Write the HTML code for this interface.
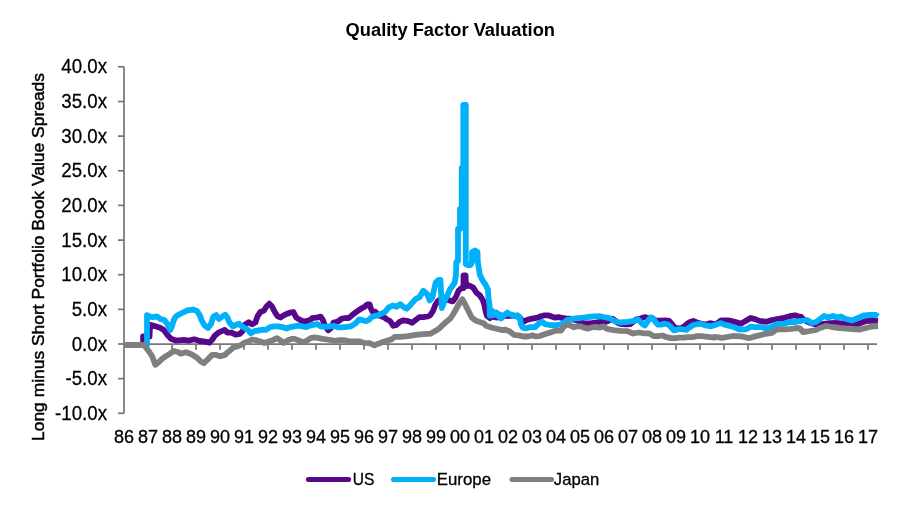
<!DOCTYPE html><html><head><meta charset="utf-8"><style>html,body{margin:0;padding:0;background:#fff;}body{width:900px;height:509px;overflow:hidden;}svg{display:block;will-change:transform;}text{font-family:"Liberation Sans",sans-serif;fill:#000;}</style></head><body>
<svg width="900" height="509" viewBox="0 0 900 509">
<rect width="900" height="509" fill="#fff"/>
<text x="345.6" y="35.6" font-size="18" font-weight="bold" textLength="209.4" lengthAdjust="spacingAndGlyphs">Quality Factor Valuation</text>
<text transform="translate(44.2 441) rotate(-90)" x="0" y="0" font-size="16.8" textLength="368" lengthAdjust="spacingAndGlyphs" stroke="#000" stroke-width="0.45">Long minus Short Portfolio Book Value Spreads</text>
<text transform="translate(107.0 73.40) scale(1 1.07)" font-size="18.7" text-anchor="end" stroke="#000" stroke-width="0.25">40.0x</text>
<text transform="translate(107.0 108.05) scale(1 1.07)" font-size="18.7" text-anchor="end" stroke="#000" stroke-width="0.25">35.0x</text>
<text transform="translate(107.0 142.70) scale(1 1.07)" font-size="18.7" text-anchor="end" stroke="#000" stroke-width="0.25">30.0x</text>
<text transform="translate(107.0 177.35) scale(1 1.07)" font-size="18.7" text-anchor="end" stroke="#000" stroke-width="0.25">25.0x</text>
<text transform="translate(107.0 212.00) scale(1 1.07)" font-size="18.7" text-anchor="end" stroke="#000" stroke-width="0.25">20.0x</text>
<text transform="translate(107.0 246.65) scale(1 1.07)" font-size="18.7" text-anchor="end" stroke="#000" stroke-width="0.25">15.0x</text>
<text transform="translate(107.0 281.30) scale(1 1.07)" font-size="18.7" text-anchor="end" stroke="#000" stroke-width="0.25">10.0x</text>
<text transform="translate(107.0 315.95) scale(1 1.07)" font-size="18.7" text-anchor="end" stroke="#000" stroke-width="0.25">5.0x</text>
<text transform="translate(107.0 350.60) scale(1 1.07)" font-size="18.7" text-anchor="end" stroke="#000" stroke-width="0.25">0.0x</text>
<text transform="translate(107.0 385.25) scale(1 1.07)" font-size="18.7" text-anchor="end" stroke="#000" stroke-width="0.25">-5.0x</text>
<text transform="translate(107.0 419.90) scale(1 1.07)" font-size="18.7" text-anchor="end" stroke="#000" stroke-width="0.25">-10.0x</text>
<g stroke="#777777" stroke-width="1.75" fill="none">
<path d="M124 66.5V413.6"/>
<path d="M118 66.8H124"/>
<path d="M118 101.5H124"/>
<path d="M118 136.1H124"/>
<path d="M118 170.8H124"/>
<path d="M118 205.4H124"/>
<path d="M118 240.1H124"/>
<path d="M118 274.7H124"/>
<path d="M118 309.4H124"/>
<path d="M118 344.0H124"/>
<path d="M118 378.6H124"/>
<path d="M118 413.3H124"/>
<path d="M124 344H877"/>
<path d="M148.0 344V349.7"/>
<path d="M172.0 344V349.7"/>
<path d="M196.0 344V349.7"/>
<path d="M220.0 344V349.7"/>
<path d="M244.0 344V349.7"/>
<path d="M268.0 344V349.7"/>
<path d="M292.0 344V349.7"/>
<path d="M316.0 344V349.7"/>
<path d="M340.0 344V349.7"/>
<path d="M364.0 344V349.7"/>
<path d="M388.0 344V349.7"/>
<path d="M412.0 344V349.7"/>
<path d="M436.0 344V349.7"/>
<path d="M460.0 344V349.7"/>
<path d="M484.0 344V349.7"/>
<path d="M508.0 344V349.7"/>
<path d="M532.0 344V349.7"/>
<path d="M556.0 344V349.7"/>
<path d="M580.0 344V349.7"/>
<path d="M604.0 344V349.7"/>
<path d="M628.0 344V349.7"/>
<path d="M652.0 344V349.7"/>
<path d="M676.0 344V349.7"/>
<path d="M700.0 344V349.7"/>
<path d="M724.0 344V349.7"/>
<path d="M748.0 344V349.7"/>
<path d="M772.0 344V349.7"/>
<path d="M796.0 344V349.7"/>
<path d="M820.0 344V349.7"/>
<path d="M844.0 344V349.7"/>
<path d="M868.0 344V349.7"/>
</g>
<text x="124.0" y="442.6" font-size="18" text-anchor="middle" stroke="#000" stroke-width="0.3">86</text>
<text x="148.0" y="442.6" font-size="18" text-anchor="middle" stroke="#000" stroke-width="0.3">87</text>
<text x="172.0" y="442.6" font-size="18" text-anchor="middle" stroke="#000" stroke-width="0.3">88</text>
<text x="196.0" y="442.6" font-size="18" text-anchor="middle" stroke="#000" stroke-width="0.3">89</text>
<text x="220.0" y="442.6" font-size="18" text-anchor="middle" stroke="#000" stroke-width="0.3">90</text>
<text x="244.0" y="442.6" font-size="18" text-anchor="middle" stroke="#000" stroke-width="0.3">91</text>
<text x="268.0" y="442.6" font-size="18" text-anchor="middle" stroke="#000" stroke-width="0.3">92</text>
<text x="292.0" y="442.6" font-size="18" text-anchor="middle" stroke="#000" stroke-width="0.3">93</text>
<text x="316.0" y="442.6" font-size="18" text-anchor="middle" stroke="#000" stroke-width="0.3">94</text>
<text x="340.0" y="442.6" font-size="18" text-anchor="middle" stroke="#000" stroke-width="0.3">95</text>
<text x="364.0" y="442.6" font-size="18" text-anchor="middle" stroke="#000" stroke-width="0.3">96</text>
<text x="388.0" y="442.6" font-size="18" text-anchor="middle" stroke="#000" stroke-width="0.3">97</text>
<text x="412.0" y="442.6" font-size="18" text-anchor="middle" stroke="#000" stroke-width="0.3">98</text>
<text x="436.0" y="442.6" font-size="18" text-anchor="middle" stroke="#000" stroke-width="0.3">99</text>
<text x="460.0" y="442.6" font-size="18" text-anchor="middle" stroke="#000" stroke-width="0.3">00</text>
<text x="484.0" y="442.6" font-size="18" text-anchor="middle" stroke="#000" stroke-width="0.3">01</text>
<text x="508.0" y="442.6" font-size="18" text-anchor="middle" stroke="#000" stroke-width="0.3">02</text>
<text x="532.0" y="442.6" font-size="18" text-anchor="middle" stroke="#000" stroke-width="0.3">03</text>
<text x="556.0" y="442.6" font-size="18" text-anchor="middle" stroke="#000" stroke-width="0.3">04</text>
<text x="580.0" y="442.6" font-size="18" text-anchor="middle" stroke="#000" stroke-width="0.3">05</text>
<text x="604.0" y="442.6" font-size="18" text-anchor="middle" stroke="#000" stroke-width="0.3">06</text>
<text x="628.0" y="442.6" font-size="18" text-anchor="middle" stroke="#000" stroke-width="0.3">07</text>
<text x="652.0" y="442.6" font-size="18" text-anchor="middle" stroke="#000" stroke-width="0.3">08</text>
<text x="676.0" y="442.6" font-size="18" text-anchor="middle" stroke="#000" stroke-width="0.3">09</text>
<text x="700.0" y="442.6" font-size="18" text-anchor="middle" stroke="#000" stroke-width="0.3">10</text>
<text x="724.0" y="442.6" font-size="18" text-anchor="middle" stroke="#000" stroke-width="0.3">11</text>
<text x="748.0" y="442.6" font-size="18" text-anchor="middle" stroke="#000" stroke-width="0.3">12</text>
<text x="772.0" y="442.6" font-size="18" text-anchor="middle" stroke="#000" stroke-width="0.3">13</text>
<text x="796.0" y="442.6" font-size="18" text-anchor="middle" stroke="#000" stroke-width="0.3">14</text>
<text x="820.0" y="442.6" font-size="18" text-anchor="middle" stroke="#000" stroke-width="0.3">15</text>
<text x="844.0" y="442.6" font-size="18" text-anchor="middle" stroke="#000" stroke-width="0.3">16</text>
<text x="868.0" y="442.6" font-size="18" text-anchor="middle" stroke="#000" stroke-width="0.3">17</text>
<g fill="none" stroke-width="5.80" stroke-linejoin="round" stroke-linecap="butt">
<path stroke="#57078A" d="M124.0 345.0L143.1 345.0L143.1 336.5L149.5 336.5L150.1 324.8L154.6 326.1L160.0 327.8L163.9 330.1L167.9 335.6L171.0 338.8L175.7 340.5L179.6 340.3L183.6 339.8L188.7 340.6L194.2 339.3L199.7 341.0L205.2 341.7L209.3 342.6L212.1 339.8L214.8 335.7L219.0 332.3L224.6 329.9L227.4 332.6L231.5 332.6L235.6 334.7L239.7 334.0L242.5 331.2L245.2 324.4L248.7 322.3L252.1 324.4L255.5 322.3L257.6 316.1L260.4 312.0L263.8 310.6L266.5 306.5L269.3 303.7L272.0 306.5L274.8 312.0L277.5 316.1L280.3 317.5L283.7 315.4L286.5 314.0L289.9 312.7L293.4 312.0L296.2 317.5L299.6 319.6L303.7 321.6L307.2 320.9L310.6 319.6L312.0 318.2L316.3 317.7L320.6 316.6L322.8 319.8L325.0 326.0L328.2 330.3L331.0 328.0L333.6 322.5L337.9 321.5L342.2 318.5L345.5 318.0L348.7 318.2L353.0 314.4L357.4 311.2L360.6 309.0L364.9 306.5L367.3 304.5L369.6 304.5L370.8 308.1L372.4 311.6L375.1 311.6L376.7 313.2L379.1 315.6L383.9 317.2L387.0 319.5L390.1 321.0L393.3 325.8L396.4 325.0L399.6 321.9L403.5 320.3L408.2 321.1L412.2 322.7L415.3 320.3L419.2 317.2L423.2 317.2L427.9 316.5L430.0 315.5L433.0 311.0L435.3 305.0L437.7 301.3L440.5 299.5L443.6 297.7L444.8 297.5L448.0 300.0L452.7 301.4L455.7 297.5L458.6 290.6L461.6 288.0L463.5 288.0L463.5 275.5L465.5 275.5L466.0 286.0L469.4 285.7L473.3 287.7L476.5 292.8L479.8 295.4L482.7 299.8L484.2 304.2L485.7 311.6L487.1 316.0L490.1 318.2L492.0 316.5L496.0 317.5L500.0 317.0L504.0 316.0L508.0 315.8L512.0 315.5L516.0 316.0L520.0 318.0L523.3 321.8L526.8 320.0L530.3 318.9L533.9 318.3L537.4 317.7L541.0 316.2L544.5 315.3L548.0 315.3L551.6 316.5L555.1 317.7L558.6 317.1L562.2 318.0L565.7 318.4L569.0 318.7L575.0 320.0L580.0 321.5L584.0 323.3L590.0 323.3L595.9 322.6L600.3 321.8L606.0 321.8L609.0 320.5L612.4 318.6L615.0 320.5L618.0 323.0L621.9 324.2L626.2 324.3L630.5 324.0L633.0 322.0L636.0 319.5L640.0 318.5L644.6 317.2L647.8 317.8L652.0 318.5L656.0 320.5L660.0 320.6L665.0 320.3L669.0 320.8L671.5 323.5L675.0 328.0L680.0 328.5L684.0 326.5L687.0 324.0L690.0 322.0L693.3 321.0L697.0 322.5L701.0 323.5L706.0 324.5L710.0 323.2L714.0 324.0L717.0 323.5L721.2 320.3L728.3 320.3L734.6 321.8L740.8 323.6L745.2 321.3L750.6 318.0L755.0 319.1L759.4 320.9L766.6 321.8L771.9 320.0L777.2 319.1L784.3 317.8L789.7 316.2L795.0 315.3L798.0 316.3L801.0 316.8L803.5 319.5L807.0 321.5L812.0 323.5L816.0 324.5L820.0 324.5L824.0 324.0L830.0 323.2L836.0 323.0L842.0 323.5L846.0 324.0L852.0 324.2L858.0 324.0L862.0 322.5L866.0 321.0L871.0 320.5L878.0 321.0"/>
<path stroke="#00B0F8" d="M124.0 345.0L147.0 345.0L147.0 315.2L152.0 317.1L157.2 316.5L160.0 318.7L164.7 320.3L168.0 325.0L170.2 330.0L172.0 326.0L173.7 320.3L175.5 317.0L177.0 315.6L180.0 314.0L187.4 310.3L192.9 309.6L197.0 311.0L199.7 315.1L201.8 320.6L204.5 325.4L208.0 328.0L210.7 324.7L213.5 316.5L216.2 315.1L219.0 319.0L222.4 316.5L225.3 314.7L227.4 317.5L229.4 322.3L232.9 326.4L235.6 325.0L239.1 323.7L241.8 326.4L244.6 327.8L248.0 329.9L250.7 333.3L254.2 331.2L257.6 330.6L261.7 329.9L265.9 329.9L270.0 327.1L274.1 326.4L278.2 326.4L282.4 327.1L286.5 328.5L290.6 327.1L294.1 326.4L298.2 325.7L302.4 326.4L306.5 327.1L309.0 325.8L312.0 325.2L317.4 324.2L320.6 326.3L325.0 326.9L329.3 326.3L333.6 325.8L337.9 327.4L342.2 327.4L346.6 326.9L350.9 326.3L355.2 323.6L359.4 319.3L362.6 320.3L365.7 321.2L368.9 319.9L372.0 316.7L375.1 315.9L378.3 315.1L381.4 313.6L385.0 311.9L388.8 307.4L392.7 305.5L396.5 306.8L400.3 304.2L404.1 307.4L406.7 308.7L410.5 304.9L415.6 299.1L419.5 297.2L423.3 290.8L427.1 294.0L429.7 300.4L432.2 297.9L435.7 282.6L438.1 280.2L440.4 280.0L441.9 308.0L444.8 300.4L447.8 294.5L449.8 289.6L452.7 285.7L454.7 282.7L456.0 275.0L456.3 262.0L458.0 261.0L458.0 229.0L460.0 229.0L460.0 209.0L461.7 209.0L461.7 168.0L463.3 168.0L463.3 104.8L465.8 104.8L465.8 264.0L467.6 265.2L470.5 265.0L472.0 262.0L472.0 252.0L475.0 250.5L477.5 252.0L477.8 262.0L479.8 274.7L482.7 280.6L485.7 285.0L487.9 289.5L488.6 298.3L489.6 305.7L489.8 315.5L491.0 315.5L492.5 311.0L494.5 315.0L496.5 312.5L498.6 316.5L500.0 314.5L501.1 318.5L503.0 316.5L505.0 314.5L507.4 312.6L509.0 314.0L511.2 314.5L513.5 316.0L516.0 316.4L517.4 315.3L519.7 317.1L520.9 324.2L522.7 327.7L526.2 328.3L530.3 327.1L535.1 327.1L538.6 323.6L542.1 321.8L545.1 324.2L549.2 324.8L553.9 325.3L557.4 325.0L561.0 324.5L563.5 323.0L566.9 320.1L573.7 318.7L580.6 318.0L587.5 317.0L594.4 316.3L600.0 316.2L603.4 317.0L610.3 318.4L615.1 321.5L620.6 322.5L627.5 321.8L634.4 320.8L638.1 319.4L642.5 324.0L645.0 325.5L648.5 320.0L650.5 317.4L653.0 318.0L655.5 322.0L657.8 324.6L661.0 324.6L664.9 323.7L668.0 324.5L670.2 326.3L673.8 330.3L680.0 329.0L686.2 329.9L689.8 327.2L693.3 325.0L700.4 323.7L705.8 325.4L711.1 326.3L716.4 324.6L720.3 323.1L725.7 324.9L732.8 326.7L739.0 329.3L746.1 329.3L750.6 326.7L755.0 327.1L761.2 327.1L766.6 328.4L771.9 326.7L777.2 324.0L784.3 323.6L790.6 321.8L795.0 322.2L796.0 321.5L801.0 321.0L807.0 320.0L812.0 323.0L816.0 322.0L820.0 319.0L824.0 316.0L828.0 317.5L833.0 316.0L837.0 317.5L841.0 316.5L846.0 319.0L852.0 320.5L858.0 318.0L864.0 315.5L870.0 315.0L876.0 315.0L878.0 316.5"/>
<path stroke="#7F7F7F" d="M124.0 345.0L144.4 345.0L145.7 347.2L149.5 352.3L152.1 356.1L154.0 361.2L155.3 364.8L158.4 362.5L162.3 358.7L166.1 356.1L170.0 353.6L173.8 351.0L178.0 352.0L180.5 353.6L186.0 352.2L191.5 354.3L197.0 357.7L201.1 361.8L203.8 363.2L208.0 359.1L212.1 354.9L216.2 354.9L220.3 356.3L225.0 354.9L227.4 352.5L230.1 350.5L232.9 347.7L237.0 346.4L241.1 345.0L243.9 342.9L248.0 341.5L252.1 339.5L256.2 340.2L260.4 341.5L264.5 342.9L268.6 341.5L272.7 340.2L276.9 338.1L280.3 340.2L283.7 342.9L287.9 340.2L292.0 338.8L294.1 338.8L298.2 340.2L302.4 342.2L306.5 340.9L310.6 338.1L314.7 337.4L318.9 338.1L323.0 338.8L327.1 339.5L331.2 340.2L335.4 340.9L339.5 340.2L343.6 340.2L347.7 340.9L351.9 341.5L356.0 341.5L360.1 341.5L364.2 342.9L369.7 343.1L374.4 345.4L377.6 343.9L382.3 342.3L387.0 340.7L391.7 339.2L394.9 336.8L400.3 336.8L408.0 336.2L415.6 334.9L423.3 334.2L430.9 333.6L436.0 330.6L440.0 327.8L442.9 324.8L446.6 321.5L450.3 318.5L453.3 314.0L456.2 309.0L459.2 303.5L462.4 299.4L464.3 302.7L466.5 307.1L468.7 311.6L471.7 317.5L475.4 320.4L479.8 321.9L484.2 323.4L486.0 325.8L492.3 327.7L498.6 329.2L502.4 330.1L504.9 329.5L509.9 331.5L513.9 334.8L518.6 335.4L523.3 336.5L528.0 336.5L532.7 335.4L536.2 336.5L539.8 336.0L543.3 334.8L546.8 333.6L550.4 332.4L553.9 331.2L557.4 330.6L561.0 330.5L563.5 327.0L566.9 324.4L570.3 325.4L573.7 327.3L577.2 326.2L580.6 326.3L584.0 327.6L587.5 328.6L590.9 327.7L594.4 327.0L600.0 327.5L603.4 326.5L606.9 328.8L613.7 330.1L620.6 330.8L627.5 331.1L633.0 333.5L638.5 332.5L644.6 333.4L649.3 333.4L653.6 336.1L658.0 336.1L662.3 335.5L666.6 337.2L671.0 338.2L675.3 338.2L679.6 337.7L683.9 337.7L688.2 337.2L692.6 337.2L696.9 336.1L701.2 336.1L705.5 336.6L709.9 337.2L714.2 337.7L715.0 336.9L722.1 337.8L732.8 336.0L741.7 336.4L748.8 338.2L755.0 336.4L763.9 334.2L771.9 332.9L775.4 330.2L779.0 329.3L786.1 329.3L791.4 328.9L795.0 328.4L796.0 328.0L800.0 328.5L803.0 332.0L807.0 331.5L810.0 331.0L816.0 330.0L820.0 328.0L826.0 326.0L832.0 327.0L840.0 328.0L846.0 328.5L852.0 329.0L860.0 329.5L866.0 328.0L872.0 326.5L878.0 326.0"/>
</g>
<g stroke-width="5" stroke-linecap="round">
<path stroke="#57078A" d="M308.4 479.6H348.6"/>
<path stroke="#00B0F8" d="M393.5 479.6H433.5"/>
<path stroke="#7F7F7F" d="M512 479.4H551.6"/>
</g>
<text x="352.8" y="484.5" font-size="16.6" textLength="21.6" lengthAdjust="spacingAndGlyphs" stroke="#000" stroke-width="0.3">US</text>
<text x="436.8" y="484.5" font-size="16.6" textLength="54.2" lengthAdjust="spacingAndGlyphs" stroke="#000" stroke-width="0.3">Europe</text>
<text x="553.8" y="484.5" font-size="16.6" textLength="45.4" lengthAdjust="spacingAndGlyphs" stroke="#000" stroke-width="0.3">Japan</text>
</svg></body></html>
